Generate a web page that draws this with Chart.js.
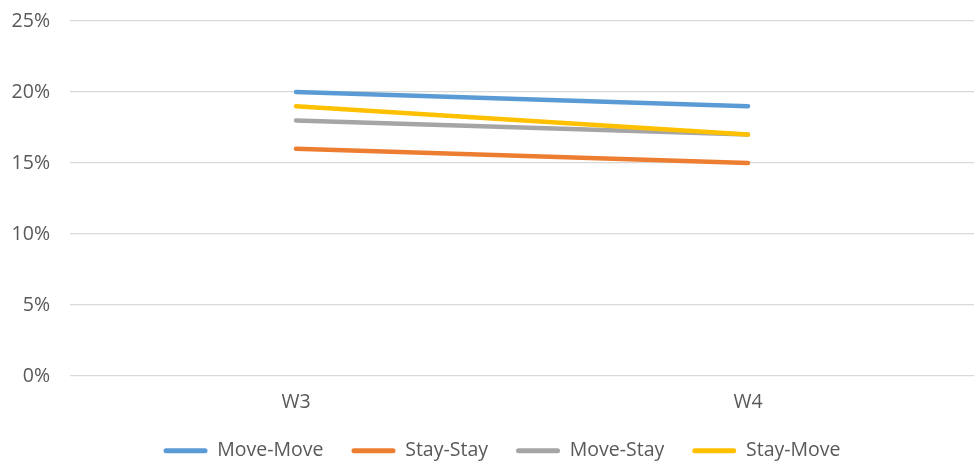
<!DOCTYPE html>
<html>
<head>
<meta charset="utf-8">
<script src="https://cdn.jsdelivr.net/npm/chart.js@4/dist/chart.umd.min.js"></script>
<style>
  html, body { margin: 0; padding: 0; background: #ffffff; }
  #wrap { width: 975px; height: 461px; position: relative; }
</style>
</head>
<body>
<div id="wrap"><canvas id="c" width="975" height="461"></canvas></div>
<script>
const categories = ["W3", "W4"];
const seriesNames = ["Move-Move", "Stay-Stay", "Move-Stay", "Stay-Move"];
const moveMove = [20, 19];
const stayStay = [16, 15];
const moveStay = [18, 17];
const stayMove = [19, 17];
const yTicks = [0, 5, 10, 15, 20, 25];

const colors = ["#5B9BD5", "#ED7D31", "#A5A5A5", "#FFC000"];
const values = [moveMove, stayStay, moveStay, stayMove];
const FONT = "'Open Sans', Lato, sans-serif";
const FS = 19.5;

const datasets = seriesNames.map((name, i) => ({
  label: name,
  data: values[i],
  borderColor: colors[i],
  backgroundColor: colors[i],
  borderWidth: 4.5,
  borderCapStyle: 'round',
  pointRadius: 0,
  pointHoverRadius: 0,
  tension: 0,
  fill: false,
  order: seriesNames.length - i
}));

// keep the legend compact vertically while keeping wide horizontal spacing
const legendFitPlugin = {
  id: 'legendFit',
  beforeLayout(chart) {
    const lg = chart.legend;
    if (lg && !lg._fitPatched) {
      const orig = lg.fit.bind(lg);
      lg.fit = function () { orig(); this.height = 48; };
      lg._fitPatched = true;
    }
  },
  afterLayout(chart) {
    const lg = chart.legend;
    if (lg) { lg.left += 15; lg.right += 15; }
  }
};

new Chart(document.getElementById('c'), {
  type: 'line',
  data: { labels: categories, datasets: datasets },
  plugins: [legendFitPlugin],
  options: {
    responsive: false,
    animation: false,
    devicePixelRatio: 1,
    layout: { padding: { top: 21, right: 1, left: 0, bottom: 0 } },
    plugins: {
      tooltip: { enabled: false },
      legend: {
        position: 'bottom',
        labels: {
          color: '#595959',
          font: { family: FONT, size: FS },
          boxWidth: 44,
          boxHeight: 5,
          padding: 28,
          generateLabels: (chart) => chart.data.datasets.map((ds, i) => ({
            text: ds.label,
            fillStyle: ds.borderColor,
            strokeStyle: ds.borderColor,
            lineWidth: 0,
            borderRadius: 2.5,
            fontColor: '#595959',
            hidden: false,
            datasetIndex: i
          }))
        }
      }
    },
    scales: {
      x: {
        offset: true,
        grid: { display: false, drawTicks: false },
        border: { display: false },
        afterFit: (scale) => { scale.height = 37; },
        ticks: { color: '#595959', font: { family: FONT, size: FS, lineHeight: 1.0 }, padding: 17 }
      },
      y: {
        min: 0,
        max: 25,
        afterBuildTicks: (scale) => { scale.ticks = yTicks.map(v => ({ value: v })); },
        afterFit: (scale) => { scale.width = 70; },
        grid: { color: '#D9D9D9', lineWidth: 1.3, drawTicks: true, tickLength: 20, tickColor: 'rgba(0,0,0,0)' },
        border: { display: false },
        ticks: {
          color: '#595959',
          font: { family: FONT, size: FS },
          padding: 0,
          callback: (v) => v + '%'
        }
      }
    }
  }
});
</script>
</body>
</html>
